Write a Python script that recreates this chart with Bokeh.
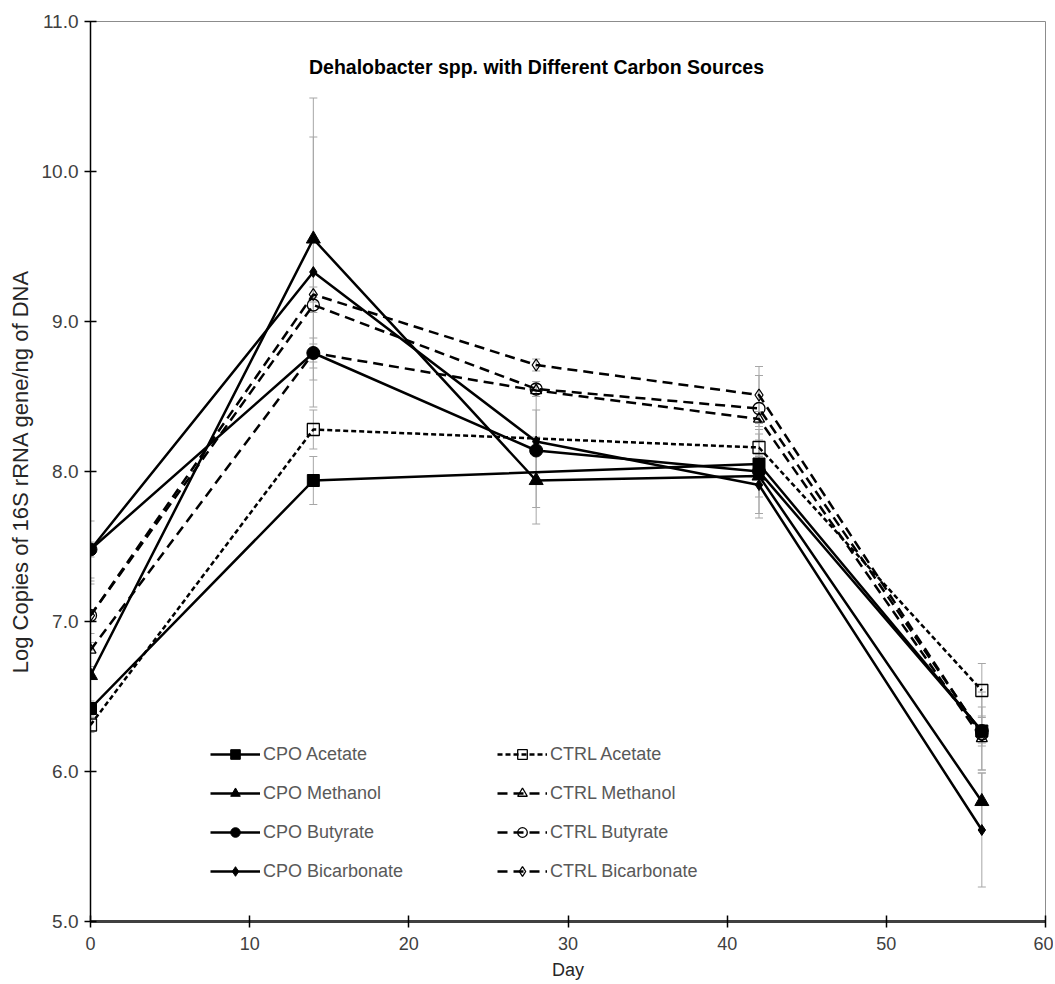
from bokeh.plotting import figure
from bokeh.models import (ColumnDataSource, Range1d, Whisker, TeeHead, Legend, LegendItem,
                          Label, FixedTicker, PrintfTickFormatter)
from bokeh.embed import file_html
from bokeh.resources import INLINE

# ---------------- data ----------------
days_full = [0, 14, 28, 42, 56]
days_acetate = [0, 14, 42, 56]

cpo_acetate = [6.42, 7.94, 8.05, 6.27]
cpo_acetate_err = [0.05, 0.16, 0.05, 0.10]
cpo_methanol = [6.64, 9.55, 7.94, 7.97, 5.80]
cpo_methanol_err = [0.22, 0.94, 0.29, 0.28, 0.19]
cpo_butyrate = [7.48, 8.79, 8.14, 8.00, 6.27]
cpo_butyrate_err = [0.19, 0.10, 0.38, 0.28, 0.26]
cpo_bicarbonate = [7.48, 9.33, 8.20, 7.91, 5.61]
cpo_bicarbonate_err = [0.05, 0.90, 0.21, 0.08, 0.38]

ctrl_acetate = [6.31, 8.28, 8.16, 6.54]
ctrl_acetate_err = [0.05, 0.13, 0.05, 0.18]
ctrl_methanol = [6.81, 8.79, 8.54, 8.35, 6.22]
ctrl_methanol_err = [0.11, 0.06, 0.04, 0.05, 0.21]
ctrl_butyrate = [7.04, 9.11, 8.55, 8.42, 6.25]
ctrl_butyrate_err = [0.23, 0.05, 0.05, 0.22, 0.05]
ctrl_bicarbonate = [7.04, 9.18, 8.71, 8.51, 6.24]
ctrl_bicarbonate_err = [0.21, 0.05, 0.04, 0.19, 0.05]

x_ticks = [0, 10, 20, 30, 40, 50, 60]
y_ticks = [5, 6, 7, 8, 9, 10, 11]

title_text = "Dehalobacter spp. with Different Carbon Sources"
x_label = "Day"
y_label = "Log Copies of 16S rRNA gene/ng of DNA"

FONT = "Liberation Sans"
GREY_TXT = "#595959"
ERR_COL = "#a6a6a6"

p = figure(width=1053, height=983, output_backend="svg", toolbar_location=None,
           x_range=Range1d(0, 60), y_range=Range1d(5, 11),
           min_border_left=90, min_border_right=8, min_border_top=21, min_border_bottom=62,
           background_fill_color="white", border_fill_color="white")
p.xgrid.visible = False
p.ygrid.visible = False
p.outline_line_color = "#8c8c8c"
p.outline_line_width = 1

# axes
p.xaxis.ticker = FixedTicker(ticks=x_ticks)
p.yaxis.ticker = FixedTicker(ticks=y_ticks)
p.yaxis.formatter = PrintfTickFormatter(format="%.1f")
for ax in (p.xaxis, p.yaxis):
    ax.minor_tick_line_color = None
    ax.major_tick_in = 6
    ax.major_tick_out = 6
    ax.major_label_text_font = FONT
    ax.major_label_text_font_size = "18px"
    ax.major_label_text_color = "#404040"
    ax.axis_label_text_font = FONT
    ax.axis_label_text_font_style = "normal"
    ax.axis_label_text_color = "#262626"
p.yaxis.major_label_text_font_size = "19px"
p.yaxis.axis_line_color = "black"
p.yaxis.axis_line_width = 1.5
p.yaxis.major_tick_line_color = "black"
p.yaxis.major_tick_line_width = 1.5
p.yaxis.major_label_standoff = 6
p.yaxis.axis_label = y_label
p.yaxis.axis_label_text_font_size = "22px"
p.yaxis.axis_label_standoff = 6
p.xaxis.axis_line_color = "#404040"
p.xaxis.axis_line_width = 3
p.xaxis.major_tick_line_color = "black"
p.xaxis.major_tick_line_width = 1.5
p.xaxis.major_label_standoff = 9
p.xaxis.axis_label = x_label
p.xaxis.axis_label_text_font_size = "18px"
p.xaxis.axis_label_standoff = 7

series = [
    ("CPO Acetate", days_acetate, cpo_acetate, cpo_acetate_err, "square", 12, True, None),
    ("CPO Methanol", days_full, cpo_methanol, cpo_methanol_err, "triangle", 14, True, None),
    ("CPO Butyrate", days_full, cpo_butyrate, cpo_butyrate_err, "circle", 13, True, None),
    ("CPO Bicarbonate", days_full, cpo_bicarbonate, cpo_bicarbonate_err, "diamond", 11, True, None),
    ("CTRL Acetate", days_acetate, ctrl_acetate, ctrl_acetate_err, "square", 12, False, "5 3"),
    ("CTRL Methanol", days_full, ctrl_methanol, ctrl_methanol_err, "triangle", 11, False, "10 6"),
    ("CTRL Butyrate", days_full, ctrl_butyrate, ctrl_butyrate_err, "circle", 12, False, "10 6"),
    ("CTRL Bicarbonate", days_full, ctrl_bicarbonate, ctrl_bicarbonate_err, "diamond", 12, False, "10 6"),
]

sources = []
for name, xs, ys, es, mk, sz, filled, dash in series:
    src = ColumnDataSource(dict(x=xs, y=ys,
                                upper=[a + b for a, b in zip(ys, es)],
                                lower=[a - b for a, b in zip(ys, es)]))
    sources.append(src)
    w = Whisker(source=src, base="x", upper="upper", lower="lower", dimension="height",
                line_color=ERR_COL, line_width=1,
                upper_head=TeeHead(size=8, line_color=ERR_COL, line_width=1),
                lower_head=TeeHead(size=8, line_color=ERR_COL, line_width=1),
                level="underlay")
    p.add_layout(w)

line_r = {}
for (name, xs, ys, es, mk, sz, filled, dash), src in zip(series, sources):
    if filled:
        line_r[name] = p.line("x", "y", source=src, line_color="black", line_width=2.5)
    else:
        line_r[name] = p.line("x", "y", source=src, line_color="black", line_width=2.5,
                              line_dash=dash)
mark_r = {}
for (name, xs, ys, es, mk, sz, filled, dash), src in reversed(list(zip(series, sources))):
    if filled:
        mark_r[name] = p.scatter("x", "y", source=src, marker=mk, size=sz, fill_color="black",
                                 line_color="black", line_width=1)
    else:
        mark_r[name] = p.scatter("x", "y", source=src, marker=mk, size=sz, fill_alpha=0,
                                 line_color="black", line_width=1.3)

items_cpo = [LegendItem(label=s[0], renderers=[line_r[s[0]], mark_r[s[0]]]) for s in series if s[6]]
items_ctrl = [LegendItem(label=s[0], renderers=[line_r[s[0]], mark_r[s[0]]]) for s in series if not s[6]]

for items, loc in ((items_cpo, (120, 38)), (items_ctrl, (407, 38))):
    leg = Legend(items=items, location=loc, margin=0, padding=0,
                 border_line_alpha=0, background_fill_alpha=0,
                 glyph_width=50, glyph_height=24, label_height=24, spacing=15,
                 label_standoff=3, label_text_font=FONT, label_text_font_size="18px",
                 label_text_color=GREY_TXT, label_text_baseline="middle")
    p.add_layout(leg)

p.add_layout(Label(x=446, y=855, x_units="screen", y_units="screen", text=title_text,
                   text_align="center", text_baseline="middle", text_font=FONT,
                   text_font_size="19.5px", text_font_style="bold", text_color="black"))

open("out.html", "w").write(file_html(p, INLINE))
